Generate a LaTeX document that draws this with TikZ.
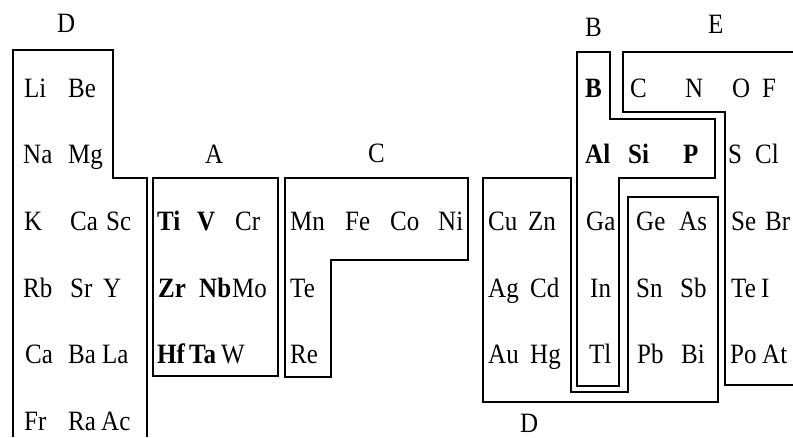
\documentclass[tikz,border=0pt]{standalone}
\usepackage{fontspec}
\usepackage{graphicx}
\setmainfont{Liberation Serif}
% element symbols are set a little taller than wide
\newcommand{\sym}[1]{\scalebox{1}[1.12]{#1}}
\begin{document}
\begin{tikzpicture}[x=1pt,y=-1pt,
  elem/.style={anchor=base west,inner sep=0pt,font=\fontsize{25}{29}\selectfont},
  grp/.style={anchor=base west,inner sep=0pt,font=\fontsize{25}{29}\selectfont},
  outline/.style={draw=black,line width=1.1pt,line join=miter}]
\useasboundingbox (0,0) rectangle (793,437);

% group outlines
\draw[outline] (13,437) -- (13,50) -- (113,50) -- (113,178) -- (147,178) -- (147,437);
\draw[outline] (153,178) rectangle (278,376);
\draw[outline] (285,178) -- (468,178) -- (468,260) -- (331,260) -- (331,377) -- (285,377) -- cycle;
\draw[outline] (483,178) -- (571,178) -- (571,392) -- (628,392) -- (628,197) -- (718,197) -- (718,402) -- (483,402) -- cycle;
\draw[outline] (577,52) -- (610,52) -- (610,119) -- (715,119) -- (715,178) -- (619,178) -- (619,386) -- (577,386) -- cycle;
\draw[outline] (793,52) -- (623,52) -- (623,112) -- (725,112) -- (725,385) -- (793,385);

% group labels
\node[grp] (lD1) at (57,32) {\sym{D}};
\node[grp] (lA) at (205,163) {\sym{A}};
\node[grp] (lC) at (368,162) {\sym{C}};
\node[grp] (lB) at (585,36) {\sym{B}};
\node[grp] (lE) at (708,33) {\sym{E}};
\node[grp] (lD2) at (520,432) {\sym{D}};

% element symbols: x / baseline / text
\foreach \x/\y/\t [count=\i] in {
  24/97/Li, 68/97/Be, 585/97/\textbf{B}, 630/97/C, 685/97/N, 732/97/O, 762/97/F,
  23/163/Na, 68/163/Mg, 585/163/\textbf{Al}, 628/163/\textbf{Si}, 683/163/\textbf{P}, 728/163/S, 755/163/Cl,
  24/230/K, 70/230/Ca, 106/230/Sc, 157/230/\textbf{Ti}, 197/230/\textbf{V}, 235/230/Cr,
  290/230/Mn, 345/230/Fe, 390/230/Co, 438/230/Ni, 488/230/Cu, 528/230/Zn, 586/230/Ga,
  636/230/Ge, 679/230/As, 731/230/Se, 765/230/Br,
  23/297/Rb, 70/297/Sr, 103/297/Y, 158/297/\textbf{Zr}, 199/297/\textbf{Nb}, 232/297/Mo,
  290/297/Te, 488/297/Ag, 530/297/Cd, 590/297/In, 636/297/Sn, 680/297/Sb, 731/297/Te, 761/297/I,
  25/363/Ca, 68/363/Ba, 102/363/La, 157/363/\textbf{Hf}, 189/363/\textbf{Ta}, 221/363/W,
  290/363/Re, 488/363/Au, 530/363/Hg, 589/363/Tl, 637/363/Pb, 681/363/Bi, 730/363/Po, 762/363/At,
  24/430/Fr, 68/430/Ra, 101/430/Ac}
  \node[elem] (e\i) at (\x,\y) {\sym{\t}};
\end{tikzpicture}
\end{document}
